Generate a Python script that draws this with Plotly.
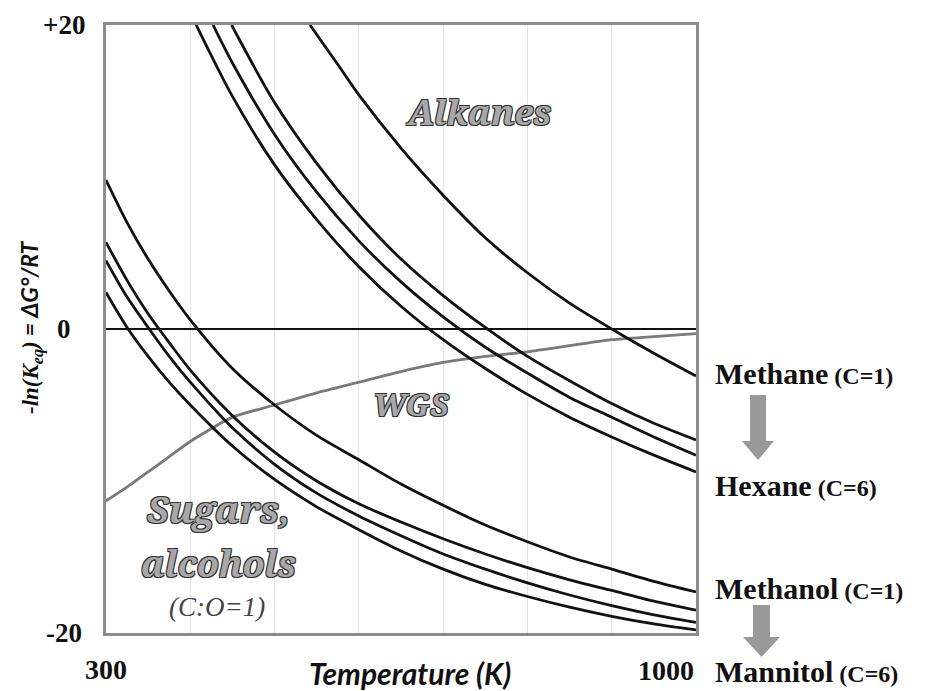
import plotly.graph_objects as go

# ---------------- data ----------------
# Alkanes: methane (C=1) ... hexane (C=6)
T_methane = [542, 575, 600, 650, 700, 750, 800, 850, 900, 950, 1000]
methane = [20, 17.4, 15.4, 11.9, 8.8, 6.0, 3.7, 1.7, 0.0, -1.6, -3.1]

T_alk2 = [449, 500, 550, 600, 650, 700, 750, 800, 850, 900, 950, 1000]
alk2 = [20, 14.9, 10.9, 7.5, 4.6, 2.2, 0.1, -1.8, -3.4, -4.9, -6.2, -7.3]

T_alk3 = [427, 450, 500, 550, 600, 650, 700, 750, 800, 850, 900, 950, 1000]
alk3 = [20, 17.5, 12.8, 9.0, 5.8, 3.1, 0.8, -1.2, -2.9, -4.5, -5.8, -7.1, -8.3]

T_hexane = [407, 450, 500, 550, 600, 650, 700, 750, 800, 850, 900, 950, 1000]
hexane = [20, 15.3, 10.8, 7.2, 4.1, 1.5, -0.7, -2.6, -4.3, -5.8, -7.1, -8.3, -9.4]

# Sugars / alcohols: methanol (C=1) ... mannitol (C=6), and WGS
T_grid = [300, 325, 350, 375, 400, 450, 500, 550, 600, 650, 700, 750, 800, 850, 900, 950, 1000]
methanol = [9.8, 7.0, 4.6, 2.5, 0.6, -2.6, -5.0, -7.0, -8.6, -10.2, -11.6, -12.9, -14.0, -15.0, -15.8, -16.6, -17.3]
sugar2 = [5.7, 3.2, 1.0, -0.9, -2.7, -5.7, -8.1, -10.0, -11.5, -12.7, -13.8, -14.8, -15.7, -16.5, -17.2, -17.9, -18.5]
sugar3 = [4.5, 2.1, 0.1, -1.8, -3.5, -6.5, -8.9, -10.8, -12.3, -13.6, -14.8, -15.8, -16.7, -17.5, -18.2, -18.8, -19.3]
mannitol = [2.4, 0.1, -1.8, -3.5, -5.0, -7.7, -9.9, -11.7, -13.2, -14.6, -15.8, -16.8, -17.6, -18.3, -18.9, -19.4, -19.8]
wgs = [-11.3, -10.4, -9.4, -8.4, -7.4, -5.8, -5.0, -4.2, -3.5, -2.8, -2.2, -1.8, -1.5, -1.1, -0.7, -0.5, -0.3]

x_ticks = [300, 1000]
y_ticks = [20, 0, -20]
y_tick_text = ["+20", "0", "-20"]
grid_T = [400, 500, 600, 700, 800, 900]

# ---------------- figure ----------------
W, H = 952, 691
L, R, TOP, BOT = 106, 696, 25, 633


def px(x):
    return (x - L) / (R - L)


def py(y):
    return (BOT - y) / (BOT - TOP)


fig = go.Figure()

black_series = [
    (T_methane, methane), (T_alk2, alk2), (T_alk3, alk3), (T_hexane, hexane),
    (T_grid, methanol), (T_grid, sugar2), (T_grid, sugar3), (T_grid, mannitol),
]
fig.add_trace(go.Scatter(x=T_grid, y=wgs, mode="lines",
                         line=dict(color="#7a7a7a", width=2.8, shape="spline", smoothing=0.6),
                         hoverinfo="skip", showlegend=False))
for xs, ys in black_series:
    fig.add_trace(go.Scatter(x=xs, y=ys, mode="lines",
                             line=dict(color="#111111", width=2.8, shape="spline", smoothing=0.8),
                             hoverinfo="skip", showlegend=False))

serif = "Liberation Serif, Times New Roman, serif"
fancy = "Noto Serif, Liberation Serif, serif"
outline = "-1px -1px 0 #333, 1px -1px 0 #333, -1px 1px 0 #333, 1px 1px 0 #333"

ann = []
# y tick labels
for v, t in zip(y_ticks, y_tick_text):
    ann.append(dict(x=px(64), xref="paper", y=v, yref="y", text="<b>%s</b>" % t,
                    showarrow=False, xanchor="center", yanchor="middle",
                    font=dict(family=serif, size=27, color="#111")))
# x tick labels
ann.append(dict(x=x_ticks[0], xref="x", y=py(669), yref="paper", text="<b>%d</b>" % x_ticks[0],
                showarrow=False, xanchor="center", yanchor="middle",
                font=dict(family=serif, size=28, color="#111")))
ann.append(dict(x=x_ticks[1], xref="x", y=py(670), yref="paper", text="<b>%d</b>" % x_ticks[1],
                showarrow=False, xanchor="right", yanchor="middle",
                font=dict(family=serif, size=28, color="#111")))
# axis titles
ann.append(dict(x=px(31), xref="paper", y=py(327), yref="paper",
                text="<b><i>-ln(K<sub>eq</sub>)</i></b><span style=\"font-family:Lato\"><b><i> = ΔG°/RT</i></b></span>",
                textangle=-90, showarrow=False, xanchor="center", yanchor="middle",
                font=dict(family=serif, size=23, color="#111")))
ann.append(dict(x=px(410), xref="paper", y=py(673), yref="paper",
                text="<b><i>Temperature (K)</i></b>", showarrow=False,
                xanchor="center", yanchor="middle",
                font=dict(family="Lato", size=30, color="#111")))
# outlined region labels
for text, cx, cy, size in [("Alkanes", 478, 112, 35), ("WGS", 411, 404, 31),
                           ("Sugars,", 218, 508, 37), ("alcohols", 218, 563, 36)]:
    ann.append(dict(x=px(cx), xref="paper", y=py(cy), yref="paper",
                    text="<b><i>%s</i></b>" % text, showarrow=False,
                    xanchor="center", yanchor="middle",
                    font=dict(family=fancy, size=size, color="#a8a8a8", shadow=outline)))
ann.append(dict(x=px(217), xref="paper", y=py(607), yref="paper",
                text="<i>(C:O=1)</i>", showarrow=False, xanchor="center", yanchor="middle",
                font=dict(family=serif, size=27, color="#444")))
# right-hand labels
for name, cnum, cy in [("Methane", 1, 373), ("Hexane", 6, 485),
                       ("Methanol", 1, 588), ("Mannitol", 6, 671)]:
    ann.append(dict(x=px(713), xref="paper", y=py(cy), yref="paper",
                    text="<b>%s</b><span style=\"font-size:24px\"><b> (C=%d)</b></span>" % (name, cnum),
                    showarrow=False, xanchor="left", yanchor="middle",
                    font=dict(family=serif, size=30, color="#111")))

# gray down arrows
shapes = []
for (sx0, sx1, sy0, hy, tip, hx0, hx1) in [(750, 766, 395, 441, 460, 742, 774),
                                           (753, 770, 605, 637, 657, 743, 780)]:
    path = "M {a},{b} L {c},{b} L {c},{d} L {e},{d} L {f},{g} L {h},{d} L {a},{d} Z".format(
        a=px(sx0), b=py(sy0), c=px(sx1), d=py(hy), e=px(hx1), f=px((hx0 + hx1) / 2),
        g=py(tip), h=px(hx0))
    shapes.append(dict(type="path", xref="paper", yref="paper", path=path,
                       fillcolor="#999999", line=dict(width=0)))

fig.update_layout(
    width=W, height=H,
    margin=dict(l=L, r=W - R, t=TOP, b=H - BOT, pad=0),
    paper_bgcolor="white", plot_bgcolor="white",
    showlegend=False,
    annotations=ann, shapes=shapes,
    xaxis=dict(range=[300, 1000], tickvals=grid_T, showticklabels=False, ticks="",
               showgrid=True, gridcolor="#e4e4e4", gridwidth=1, zeroline=False,
               showline=True, linecolor="#8c8c8c", linewidth=3, mirror=True),
    yaxis=dict(range=[-20, 20], showticklabels=False, ticks="", showgrid=False,
               zeroline=True, zerolinecolor="#111", zerolinewidth=2,
               showline=True, linecolor="#8c8c8c", linewidth=3, mirror=True),
)

fig.write_html("out.html")
